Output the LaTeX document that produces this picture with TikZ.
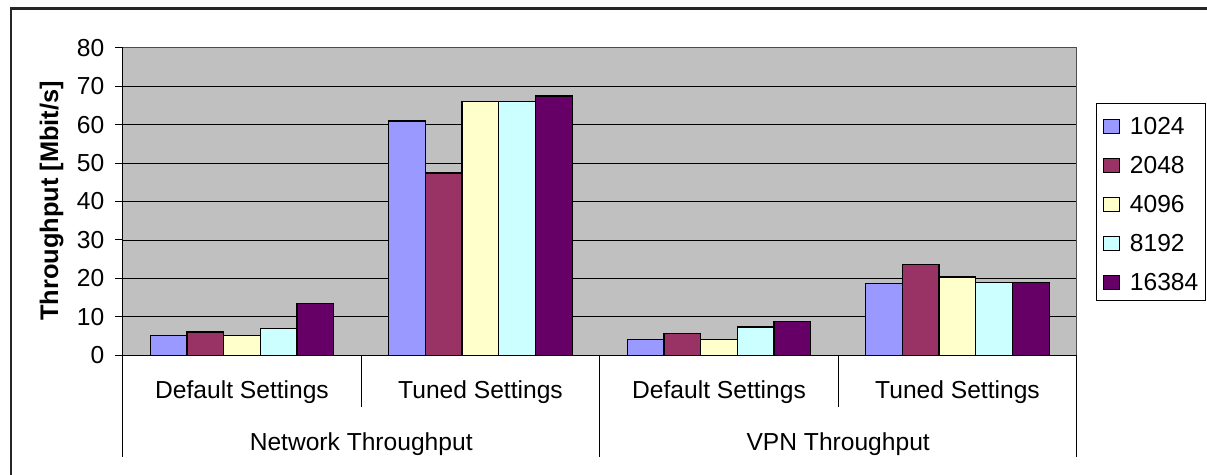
\documentclass[tikz,border=0pt]{standalone}
\usepackage{fontspec}
\setmainfont{Liberation Sans}
\usetikzlibrary{
  positioning,
  calc,
  }
\definecolor{plotgray}{HTML}{C0C0C0}
\definecolor{sizea}{HTML}{9999FF}
\definecolor{sizeb}{HTML}{993366}
\definecolor{sizec}{HTML}{FFFFCC}
\definecolor{sized}{HTML}{CCFFFF}
\definecolor{sizee}{HTML}{660066}

\begin{document}
\begin{tikzpicture}[x=1pt, y=-1pt,
    every node/.style={inner sep=0pt, font=\fontsize{24.6}{28}\selectfont},
    bar/.style={draw=black, line width=1.3pt},
    gridline/.style={black, line width=0.9pt},
    catline/.style={black, line width=1pt},
    ticklab/.style={anchor=east, xshift=-18.2pt},
    catlab/.style={anchor=base},
    legkey/.style={draw=black, line width=0.8pt, minimum width=16pt, minimum height=14.5pt},
    legtext/.style={right=10pt of #1, anchor=west}]
                \useasboundingbox (0,0) rectangle (1207,474);
                \draw[line width=2.4pt, black!85] (10.7,480) -- (10.7,8.3) -- (1215,8.3);
                \begin{scope}[shift={(122.7,355.3)}, x=238.5pt, y=3.845pt]
                    \fill[plotgray] (0,0) rectangle (4,80);
                    \foreach \v in {10,20,...,70}
                        \draw[gridline] (0,\v) -- (4,\v);
                    \draw[gray!60!black, line width=1pt] (0,80) -- (4,80) -- (4,0);
                    \foreach \g/\na/\nb/\nc/\nd/\ne in {0/5.1/6.1/5.1/6.9/13.5, 1/60.9/47.4/66/66/67.4,
                                                    2/4.2/5.6/4.2/7.4/8.8, 3/18.6/23.7/20.4/19/19}{
                        \foreach \v/\col [count=\s from 0] in {\na/sizea, \nb/sizeb, \nc/sizec, \nd/sized, \ne/sizee}
                            \draw[bar, fill=\col] ({\g+(0.75+\s)/6.5},0) rectangle ({\g+(1.75+\s)/6.5},\v);
                    }
                    \foreach \v in {0,10,...,80}{
                        \draw[catline] (0,\v) -- ++(-7.7pt,0);
                        \node[ticklab] (tick\v) at (0,\v) {\v};
                    }
                    \draw[catline] (0,0) -- (4,0);
                    \draw[catline] (0,80) -- (0,0);
                \end{scope}
                \draw[catline] (122.7,355.3) -- (122.7,457);
                \draw[catline] (599.7,355.3) -- (599.7,457);
                \draw[catline] (1076.7,355.3) -- (1076.7,457);
                \draw[catline] (361.2,355.3) -- (361.2,407);
                \draw[catline] (838.2,355.3) -- (838.2,407);
                \node[catlab] (netdef) at (242,398.3) {Default Settings};
                \node[catlab] (nettun) at (480.5,398.3) {Tuned Settings};
                \node[catlab] (vpndef) at (719,398.3) {Default Settings};
                \node[catlab] (vpntun) at (957.5,398.3) {Tuned Settings};
                \node[catlab] (net) at (361.2,450) {Network Throughput};
                \node[catlab] (vpn) at (838.2,450) {VPN Throughput};
                \node[anchor=base, rotate=90, font=\fontsize{25.4}{28}\selectfont\bfseries] (ylab) at (58,201) {Throughput [Mbit/s]};
                \node[draw=black, line width=1pt, minimum width=109pt, minimum height=196.7pt] (legend) at (1150.5,201.7) {};
                \node[legkey, fill=sizea] (key1024) at (1111.3,126.2) {};
                \node[legkey, fill=sizeb] (key2048) at (1111.3,165.2) {};
                \node[legkey, fill=sizec] (key4096) at (1111.3,204.2) {};
                \node[legkey, fill=sized] (key8192) at (1111.3,243.2) {};
                \node[legkey, fill=sizee] (key16384) at (1111.3,282.2) {};
                \node[legtext=key1024] (lab1024) {1024};
                \node[legtext=key2048] (lab2048) {2048};
                \node[legtext=key4096] (lab4096) {4096};
                \node[legtext=key8192] (lab8192) {8192};
                \node[legtext=key16384] (lab16384) {16384};
\end{tikzpicture}
\end{document}
